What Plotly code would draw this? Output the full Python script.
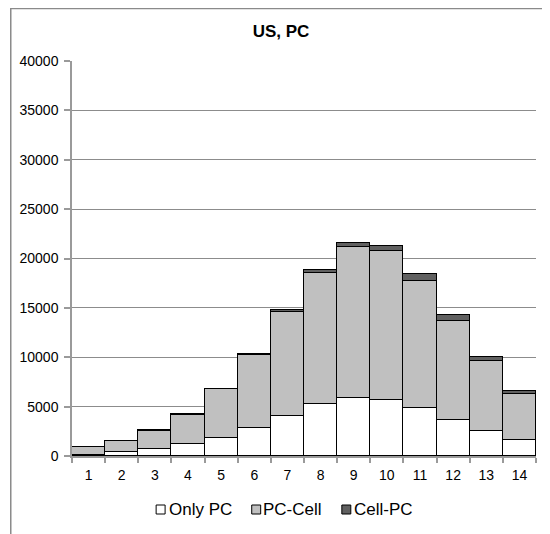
import plotly.graph_objects as go

categories = [str(i) for i in range(1, 15)]
only_pc = [150, 450, 750, 1190, 1800, 2820, 4080, 5270, 5880, 5710, 4830, 3640, 2550, 1670]
pc_cell = [730, 1050, 1800, 3010, 4950, 7380, 10470, 13290, 15300, 15030, 12880, 10060, 7070, 4620]
cell_pc = [30, 40, 50, 60, 80, 100, 200, 240, 340, 510, 680, 610, 440, 340]
y_ticks = [0, 5000, 10000, 15000, 20000, 25000, 30000, 35000, 40000]
y_labels = [str(v) for v in y_ticks]
series_names = ["Only PC", "PC-Cell", "Cell-PC"]
series_colors = ["#ffffff", "#c0c0c0", "#606060"]

FONT = "Liberation Sans, Arial, sans-serif"

fig = go.Figure()
for name, vals, col in zip(series_names, [only_pc, pc_cell, cell_pc], series_colors):
    fig.add_trace(go.Bar(x=categories, y=vals, name=name, showlegend=False,
                         marker=dict(color=col, line=dict(color="#000000", width=1.5))))

# page has an 8px body margin; work in page coordinates and shift
OFF = 8
W, H = 550 - OFF, 534 - OFF
PL, PR, PT, PB = 70, 536, 61, 456  # plot area in page pixels
L, T = PL - OFF, PT - OFF
pw, ph = PR - PL, PB - PT
R = W - L - pw
B = H - T - ph

def px_x(p):
    return (p - PL) / pw

def px_y(p):
    return (PB - p) / ph

shapes = [
    dict(type="line", xref="paper", yref="paper", x0=px_x(OFF), x1=px_x(600),
         y0=px_y(4 if 4 > OFF else OFF + 0.5), y1=px_y(4 if 4 > OFF else OFF + 0.5),
         line=dict(color="#8a8a8a", width=1.5)),
    dict(type="line", xref="paper", yref="paper", x0=px_x(OFF + 0.5), x1=px_x(OFF + 0.5),
         y0=px_y(OFF), y1=px_y(600), line=dict(color="#8a8a8a", width=1.5)),
]
annotations = []
leg_marker_x = [154.5, 250.5, 341]
leg_text_x = [165.5, 260, 351.5]
for name, col, mx, tx in zip(series_names, series_colors, leg_marker_x, leg_text_x):
    shapes.append(dict(type="rect", xref="paper", yref="paper",
                       x0=px_x(mx), x1=px_x(mx + 9), y0=px_y(514), y1=px_y(505),
                       fillcolor=col, line=dict(color="#000000", width=1)))
    annotations.append(dict(text=name, xref="paper", yref="paper", x=px_x(tx), y=px_y(509.5),
                            xanchor="left", yanchor="middle", showarrow=False,
                            font=dict(family=FONT, size=17, color="#000000")))

fig.update_layout(
    width=W, height=H,
    margin=dict(l=L, r=R, t=T, b=B, pad=0),
    barmode="stack", bargap=0,
    plot_bgcolor="white", paper_bgcolor="white",
    font=dict(family=FONT, size=14, color="#000000"),
    title=dict(text="<b>US, PC</b>", font=dict(family=FONT, size=17, color="#000000"),
               x=(281 - OFF) / W, xanchor="center", xref="container",
               y=1 - (31 - OFF) / H, yanchor="middle", yref="container"),
    showlegend=False,
    xaxis=dict(type="category", showgrid=False, showline=True, linecolor="#9a9a9a",
               linewidth=1.5, ticks="outside", tickson="boundaries", ticklen=5,
               tickcolor="#9a9a9a", tickwidth=1.5, tickfont=dict(size=14),
               ticklabelstandoff=5),
    yaxis=dict(range=[0, 40000], tickvals=y_ticks, ticktext=y_labels, showgrid=True,
               gridcolor="#8c8c8c", gridwidth=1.2, showline=True, linecolor="#9a9a9a",
               linewidth=1.5, ticks="outside", ticklen=6, tickcolor="#9a9a9a",
               tickwidth=1.5, zeroline=False, tickfont=dict(size=14),
               ticklabelstandoff=3),
    shapes=shapes,
    annotations=annotations,
)

fig.write_html("out.html")
